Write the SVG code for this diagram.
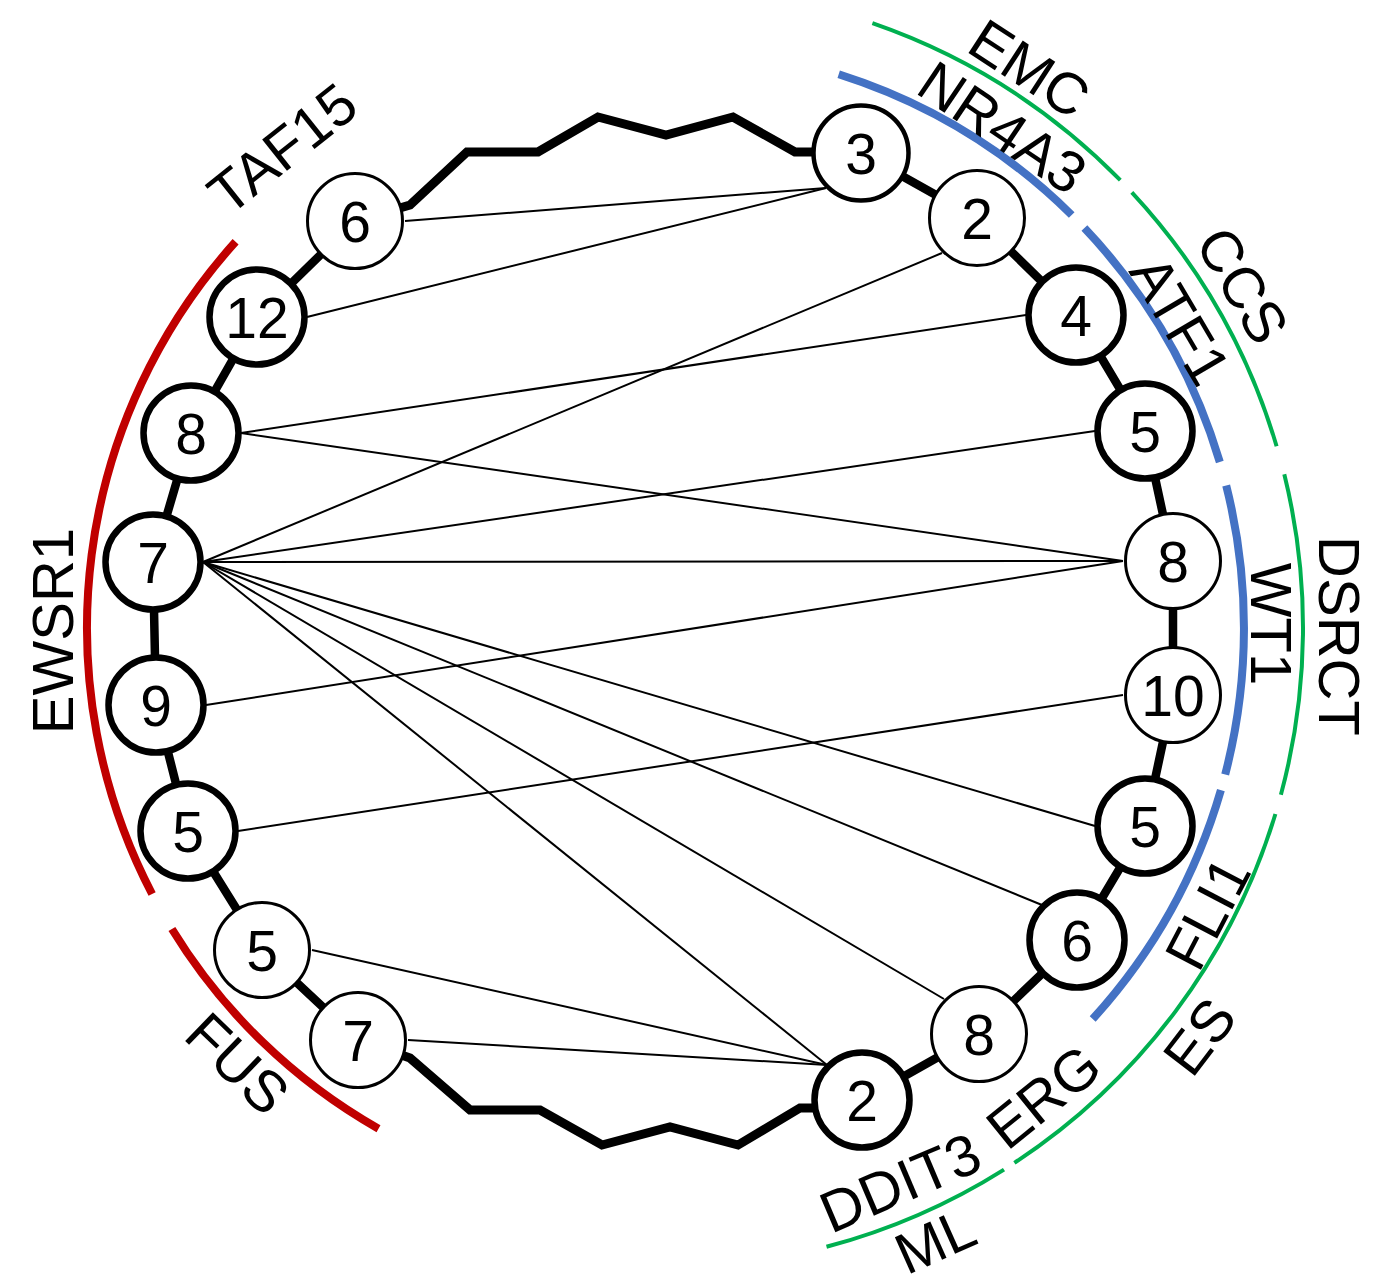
<svg xmlns="http://www.w3.org/2000/svg" width="1384" height="1286" viewBox="0 0 1384 1286">
<style>
.bg{fill:#fff}
.link{fill:none;stroke:#000;stroke-width:8.5;stroke-linecap:round}
.wave{fill:none;stroke:#000;stroke-width:9;stroke-linejoin:miter}
.edge{fill:none;stroke:#000;stroke-width:2}
.node circle{fill:#fff;stroke:#000}
.thin circle{stroke-width:3}
.med circle{stroke-width:4.5}
.thick circle{stroke-width:6.5}
.node text{font-family:"Liberation Sans",Arial,sans-serif;font-size:57px;text-anchor:middle;fill:#000}
.red{fill:none;stroke:#C00000;stroke-width:8}
.blue{fill:none;stroke:#4472C4;stroke-width:8}
.green{fill:none;stroke:#00B050;stroke-width:4}
.lbl{font-family:"Liberation Sans",Arial,sans-serif;font-size:58px;text-anchor:middle;fill:#000}
</style>
<rect class="bg" x="0" y="0" width="1384" height="1286"/>
<g id="arcs">
<path class="red" d="M235.6,241.8 A576,576 0 0 0 152.1,894.0"/>
<path class="red" d="M171.9,929.0 A576,576 0 0 0 378.5,1128.8"/>
<path class="blue" d="M838.7,74.2 A581,581 0 0 1 1071.7,215.0"/>
<path class="blue" d="M1084.4,228.1 A581,581 0 0 1 1219.8,462.0"/>
<path class="blue" d="M1226.2,485.5 A581,581 0 0 1 1225.2,774.5"/>
<path class="blue" d="M1220.9,790.1 A581,581 0 0 1 1092.7,1019.0"/>
<path class="green" d="M872.4,23.2 A640,640 0 0 1 1120.3,180.2"/>
<path class="green" d="M1131.8,192.3 A640,640 0 0 1 1276.6,446.2"/>
<path class="green" d="M1284.3,474.3 A640,640 0 0 1 1280.9,794.7"/>
<path class="green" d="M1275.4,814.0 A640,640 0 0 1 1014.4,1162.9"/>
<path class="green" d="M1004.0,1169.6 A640,640 0 0 1 826.5,1246.8"/>
</g>
<g id="labels">
<text class="lbl" transform="translate(1030,68) rotate(33)" dy="0.36em">EMC</text>
<text class="lbl" transform="translate(1003,127) rotate(34)" dy="0.36em">NR4A3</text>
<text class="lbl" transform="translate(1243,285) rotate(59.5)" dy="0.36em">CCS</text>
<text class="lbl" transform="translate(1181,320) rotate(59.5)" dy="0.36em">ATF1</text>
<text class="lbl" transform="translate(1272,624) rotate(90)" dy="0.36em">WT1</text>
<text class="lbl" transform="translate(1340,636) rotate(90)" dy="0.36em">DSRCT</text>
<text class="lbl" transform="translate(1207,913) rotate(-62.5)" dy="0.36em">FLI1</text>
<text class="lbl" transform="translate(1199,1036) rotate(-52.5)" dy="0.36em">ES</text>
<text class="lbl" transform="translate(1043,1096) rotate(-39)" dy="0.36em">ERG</text>
<text class="lbl" transform="translate(900,1182) rotate(-23)" dy="0.36em">DDIT3</text>
<text class="lbl" transform="translate(935,1240) rotate(-24)" dy="0.36em">ML</text>
<text class="lbl" transform="translate(282,148) rotate(-38.5)" dy="0.36em">TAF15</text>
<text class="lbl" transform="translate(52,631) rotate(-90)" dy="0.36em">EWSR1</text>
<text class="lbl" transform="translate(238,1063) rotate(44)" dy="0.36em">FUS</text>
</g>
<g id="connectors">
<path class="link" d="M355,221 L257,317 L191,433 L153,562 L156,705 L188,831 L262,950 L358,1040"/>
<path class="link" d="M861,153 L977,218 L1076,315 L1145,431 L1173,561 L1173,695 L1145,826 L1077,940 L979,1034 L862,1100"/>
<path class="wave" d="M355,221 L410,205 L467,152 L538,152 L598,117 L666,135 L733,117 L795,152 L813,152 L861,153"/>
<path class="wave" d="M358,1040 L410,1058 L470,1110 L540,1110 L602,1145 L670,1127 L738,1145 L800,1108 L817,1108 L862,1100"/>
<line class="edge" x1="405" y1="221" x2="826" y2="188"/>
<line class="edge" x1="307" y1="317" x2="826" y2="188"/>
<line class="edge" x1="203" y1="562" x2="942" y2="253"/>
<line class="edge" x1="241" y1="433" x2="1026" y2="315"/>
<line class="edge" x1="241" y1="433" x2="1123" y2="561"/>
<line class="edge" x1="203" y1="562" x2="1095" y2="431"/>
<line class="edge" x1="203" y1="562" x2="1123" y2="561"/>
<line class="edge" x1="206" y1="705" x2="1123" y2="561"/>
<line class="edge" x1="238" y1="831" x2="1123" y2="695"/>
<line class="edge" x1="203" y1="562" x2="1095" y2="826"/>
<line class="edge" x1="203" y1="562" x2="1042" y2="905"/>
<line class="edge" x1="203" y1="562" x2="944" y2="999"/>
<line class="edge" x1="203" y1="562" x2="827" y2="1065"/>
<line class="edge" x1="312" y1="950" x2="827" y2="1065"/>
<line class="edge" x1="408" y1="1040" x2="827" y2="1065"/>
</g>
<g id="n_L6" class="node thin"><circle cx="355" cy="221" r="47.5"/><text x="355" y="241.5">6</text></g>
<g id="n_L12" class="node thick"><circle cx="257" cy="317" r="47.5"/><text x="257" y="337.5">12</text></g>
<g id="n_L8" class="node thick"><circle cx="191" cy="433" r="47.5"/><text x="191" y="453.5">8</text></g>
<g id="n_L7" class="node thick"><circle cx="153" cy="562" r="47.5"/><text x="153" y="582.5">7</text></g>
<g id="n_L9" class="node thick"><circle cx="156" cy="705" r="47.5"/><text x="156" y="725.5">9</text></g>
<g id="n_L5" class="node thick"><circle cx="188" cy="831" r="47.5"/><text x="188" y="851.5">5</text></g>
<g id="n_F5" class="node thin"><circle cx="262" cy="950" r="47.5"/><text x="262" y="970.5">5</text></g>
<g id="n_F7" class="node thin"><circle cx="358" cy="1040" r="47.5"/><text x="358" y="1060.5">7</text></g>
<g id="n_R3" class="node med"><circle cx="861" cy="153" r="47.5"/><text x="861" y="173.5">3</text></g>
<g id="n_R2" class="node thin"><circle cx="977" cy="218" r="47.5"/><text x="977" y="238.5">2</text></g>
<g id="n_R4" class="node thick"><circle cx="1076" cy="315" r="47.5"/><text x="1076" y="335.5">4</text></g>
<g id="n_R5a" class="node thick"><circle cx="1145" cy="431" r="47.5"/><text x="1145" y="451.5">5</text></g>
<g id="n_R8" class="node thin"><circle cx="1173" cy="561" r="47.5"/><text x="1173" y="581.5">8</text></g>
<g id="n_R10" class="node thin"><circle cx="1173" cy="695" r="47.5"/><text x="1173" y="715.5">10</text></g>
<g id="n_R5b" class="node thick"><circle cx="1145" cy="826" r="47.5"/><text x="1145" y="846.5">5</text></g>
<g id="n_R6" class="node thick"><circle cx="1077" cy="940" r="47.5"/><text x="1077" y="960.5">6</text></g>
<g id="n_B8" class="node thin"><circle cx="979" cy="1034" r="47.5"/><text x="979" y="1054.5">8</text></g>
<g id="n_B2" class="node thick"><circle cx="862" cy="1100" r="47.5"/><text x="862" y="1120.5">2</text></g>
</svg>
